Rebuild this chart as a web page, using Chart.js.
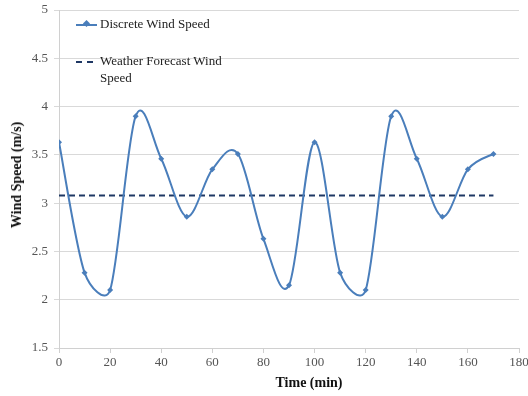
<!DOCTYPE html>
<html>
<head>
<meta charset="utf-8">
<script src="https://cdn.jsdelivr.net/npm/chart.js@4"></script>
<style>
  html, body { margin: 0; padding: 0; background: #fff; }
  #wrap { position: relative; width: 528px; height: 396px; }
  #legend {
    position: absolute; left: 76px; top: 15px;
    font-family: "Liberation Serif", "Times New Roman", serif;
    font-size: 13px; color: #222; line-height: 17px;
  }
  .item { position: relative; padding-left: 24px; margin-bottom: 20px; }
  .swatch { position: absolute; left: 0; top: 9px; width: 21px; height: 0; }
  .solid { border-top: 2px solid #4a7ebb; }
  .solid::after {
    content: ''; position: absolute; left: 8px; top: -5px; width: 5px; height: 5px;
    background: #4a7ebb; transform: rotate(45deg);
  }
  .dashed { border-top: 2px dashed #1f3864; width: 17px; }
  .axis-title {
    position: absolute; white-space: nowrap;
    font-family: "Liberation Serif", "Times New Roman", serif;
    font-size: 14px; font-weight: bold; color: #111;
  }
  #xTitle { left: 309px; top: 375px; transform: translateX(-50%); }
  #yTitle { left: 17px; top: 175px; transform: translate(-50%, -50%) rotate(-90deg); }
</style>
</head>
<body>
<div id="wrap">
  <canvas id="chart" width="528" height="396"></canvas>
  <div id="legend">
    <div class="item"><span class="swatch solid"></span>Discrete Wind Speed</div>
    <div class="item"><span class="swatch dashed"></span>Weather Forecast Wind<br>Speed</div>
  </div>
  <div class="axis-title" id="xTitle">Time (min)</div>
  <div class="axis-title" id="yTitle">Wind Speed (m/s)</div>
</div>
<script>
// Time axis (min) and measured wind speed (m/s)
const times = [0, 10, 20, 30, 40, 50, 60, 70, 80, 90, 100, 110, 120, 130, 140, 150, 160, 170];
const windSpeed = [3.63, 2.28, 2.1, 3.9, 3.46, 2.86, 3.35, 3.51, 2.63, 2.15, 3.63, 2.28, 2.1, 3.9, 3.46, 2.86, 3.35, 3.51];

// Forecast wind speed, flat line
const forecastTimes = [0, 170];
const forecastSpeed = [3.08, 3.08];

const tickFont = { family: '"Liberation Serif", "Times New Roman", serif', size: 13 };

// Excel-style smoothing: Catmull-Rom tangents (1/6), capped at half the segment length
const excelSmooth = {
  id: 'excelSmooth',
  beforeDatasetDraw(chart, args) {
    if (args.index !== 0) return;
    const line = args.meta.dataset;
    const pts = args.meta.data;
    const dist = (a, b) => Math.hypot(b.x - a.x, b.y - a.y);
    for (let i = 0; i < pts.length - 1; i++) {
      const p0 = pts[i - 1] || pts[i];
      const p1 = pts[i];
      const p2 = pts[i + 1];
      const p3 = pts[i + 2] || p2;
      const d12 = dist(p1, p2);
      const d02 = dist(p0, p2);
      const d13 = dist(p1, p3);
      const f0 = d02 > 0 ? Math.min(1 / 6, d12 / (2 * d02)) : 0;
      const f3 = d13 > 0 ? Math.min(1 / 6, d12 / (2 * d13)) : 0;
      p1.cp2x = p1.x + (p2.x - p0.x) * f0;
      p1.cp2y = p1.y + (p2.y - p0.y) * f0;
      p2.cp1x = p2.x - (p3.x - p1.x) * f3;
      p2.cp1y = p2.y - (p3.y - p1.y) * f3;
    }
    line._pointsUpdated = true;
    line._path = undefined;
  },
};

const ctx = document.getElementById('chart').getContext('2d');

new Chart(ctx, {
  type: 'line',
  data: {
    datasets: [
      {
        label: 'Discrete Wind Speed',
        data: times.map((t, i) => ({ x: t, y: windSpeed[i] })),
        borderColor: '#4a7ebb',
        backgroundColor: '#4a7ebb',
        borderWidth: 2,
        tension: 0.35,
        pointStyle: 'rectRot',
        pointRadius: 3,
        pointBorderWidth: 0,
      },
      {
        label: 'Weather Forecast Wind Speed',
        data: forecastTimes.map((t, i) => ({ x: t, y: forecastSpeed[i] })),
        borderColor: '#1f3864',
        borderWidth: 2,
        borderDash: [6, 4],
        pointRadius: 0,
      },
    ],
  },
  options: {
    responsive: false,
    animation: false,
    layout: { padding: { top: 10, right: 9, bottom: 0, left: 0 } },
    plugins: { legend: { display: false }, tooltip: { enabled: false } },
    scales: {
      x: {
        type: 'linear',
        min: 0,
        max: 180,
        ticks: { stepSize: 20, color: '#555', font: tickFont, padding: 2 },
        grid: { drawOnChartArea: false, drawTicks: true, tickLength: 5, color: '#d0d0d0' },
        border: { color: '#d0d0d0' },
        afterFit: (scale) => {
          scale.height = 48;
          scale.paddingLeft = 0;
          scale.paddingRight = 0;
        },
      },
      y: {
        min: 1.5,
        max: 5,
        ticks: { stepSize: 0.5, color: '#555', font: tickFont, padding: 6, callback: (v) => String(v) },
        grid: { color: '#d9d9d9', tickLength: 5 },
        border: { color: '#d0d0d0' },
        afterFit: (scale) => {
          scale.width = 59;
          scale.paddingTop = 0;
          scale.paddingBottom = 0;
        },
      },
    },
  },
  plugins: [excelSmooth],
});
</script>
</body>
</html>
